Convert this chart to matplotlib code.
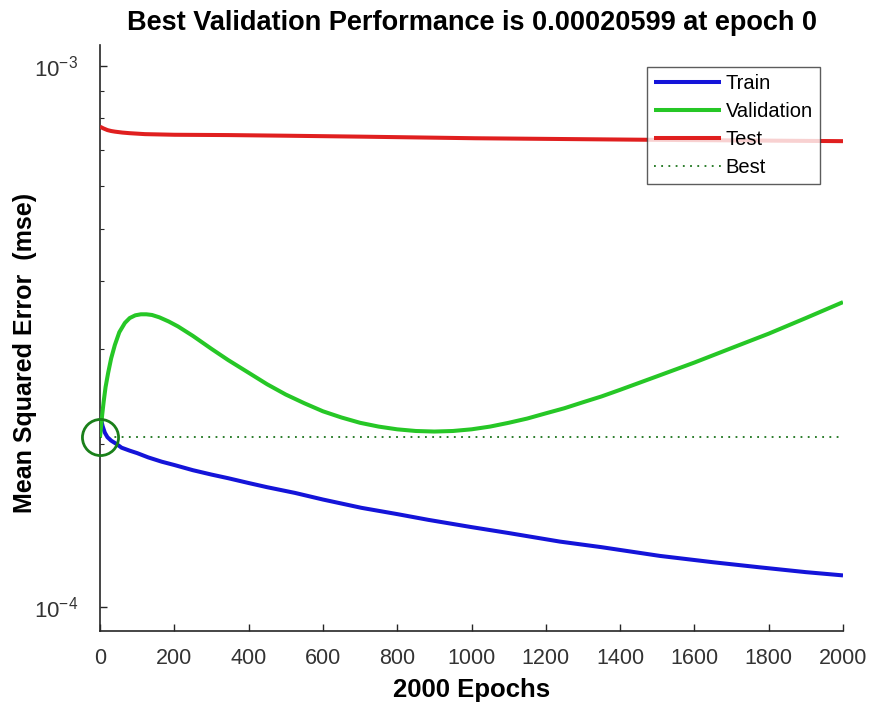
import matplotlib
matplotlib.use("Agg")
import matplotlib.pyplot as plt
from matplotlib.ticker import LogLocator, FixedLocator, NullFormatter

plt.rcParams['font.family'] = ['Liberation Sans', 'DejaVu Sans']
plt.rcParams['mathtext.fontset'] = 'custom'
plt.rcParams['mathtext.rm'] = 'Liberation Sans'

# ---- data ----
train_epochs = [0, 3, 7, 13, 20, 30, 45, 58, 80, 100, 130, 166, 200, 250, 300, 345, 400, 450,
                525, 600, 704, 800, 884, 1000, 1100, 1238, 1350, 1507, 1650, 1776, 1900, 2000]
train_mse = [2.26e-4, 2.22e-4, 2.16e-4, 2.10e-4, 2.06e-4, 2.03e-4, 2.00e-4, 1.97e-4, 1.945e-4,
             1.925e-4, 1.89e-4, 1.856e-4, 1.83e-4, 1.79e-4, 1.757e-4, 1.73e-4, 1.695e-4,
             1.665e-4, 1.625e-4, 1.58e-4, 1.525e-4, 1.485e-4, 1.449e-4, 1.405e-4, 1.37e-4,
             1.321e-4, 1.29e-4, 1.243e-4, 1.21e-4, 1.184e-4, 1.16e-4, 1.144e-4]

val_epochs = [0, 3, 6, 10, 15, 22, 30, 40, 52, 67, 80, 95, 110, 125, 140, 160, 185, 210, 250,
              300, 345, 400, 450, 500, 550, 600, 650, 700, 750, 800, 850, 900, 950, 1000,
              1050, 1100, 1150, 1200, 1250, 1300, 1350, 1400, 1500, 1600, 1700, 1800, 1900, 2000]
val_mse = [2.06e-4, 2.16e-4, 2.27e-4, 2.40e-4, 2.55e-4, 2.71e-4, 2.88e-4, 3.05e-4, 3.22e-4,
           3.35e-4, 3.42e-4, 3.46e-4, 3.475e-4, 3.475e-4, 3.465e-4, 3.43e-4, 3.37e-4, 3.30e-4,
           3.17e-4, 3.00e-4, 2.86e-4, 2.71e-4, 2.58e-4, 2.47e-4, 2.38e-4, 2.30e-4, 2.24e-4,
           2.19e-4, 2.155e-4, 2.13e-4, 2.115e-4, 2.11e-4, 2.115e-4, 2.13e-4, 2.155e-4, 2.19e-4,
           2.23e-4, 2.28e-4, 2.33e-4, 2.39e-4, 2.45e-4, 2.52e-4, 2.67e-4, 2.83e-4, 3.01e-4,
           3.20e-4, 3.42e-4, 3.66e-4]

test_epochs = [0, 5, 10, 20, 30, 40, 60, 80, 121, 200, 345, 500, 705, 1010, 1500, 2000]
test_mse = [7.72e-4, 7.69e-4, 7.66e-4, 7.61e-4, 7.58e-4, 7.56e-4, 7.53e-4, 7.51e-4, 7.48e-4,
            7.46e-4, 7.45e-4, 7.43e-4, 7.40e-4, 7.35e-4, 7.30e-4, 7.26e-4]

best_epoch = 0
best_perf = 0.00020599
n_epochs = 2000

x_ticks = [0, 200, 400, 600, 800, 1000, 1200, 1400, 1600, 1800, 2000]
y_ticks = [1e-4, 1e-3]
y_tick_labels = [r'$\mathregular{10^{-4}}$', r'$\mathregular{10^{-3}}$']

# ---- figure ----
fig = plt.figure(figsize=(8.71, 7.08), dpi=100)
ax = fig.add_axes([100/871, 1-631/708, (843-100)/871, (631-45)/708])

lw = 2.9
ax.plot(train_epochs, train_mse, color=(0.08, 0.08, 0.85), lw=lw, label='Train', zorder=3,
        solid_capstyle='butt')
ax.plot(val_epochs, val_mse, color=(0.15, 0.78, 0.15), lw=lw, label='Validation', zorder=3,
        solid_capstyle='butt')
ax.plot(test_epochs, test_mse, color=(0.88, 0.12, 0.12), lw=lw, label='Test', zorder=3,
        solid_capstyle='butt')
ax.plot([0, n_epochs], [best_perf, best_perf], color=(0.1, 0.45, 0.1), lw=1.3,
        linestyle=(0, (1, 3)), label='Best', zorder=2)
ax.plot([best_epoch], [best_perf], marker='o', markersize=26, markerfacecolor='none',
        markeredgecolor=(0.1, 0.5, 0.1), markeredgewidth=2, linestyle='none', zorder=4,
        clip_on=False)

ax.set_yscale('log')
ax.set_xlim(0, n_epochs)
ax.set_ylim(9.03e-5, 1.093e-3)

ax.set_xticks(x_ticks)
ax.set_xticklabels([str(t) for t in x_ticks])
ax.yaxis.set_major_locator(FixedLocator(y_ticks))
ax.set_yticklabels(y_tick_labels)
ax.yaxis.set_minor_locator(LogLocator(base=10, subs=range(2, 10)))
ax.yaxis.set_minor_formatter(NullFormatter())

for s in ['top', 'right']:
    ax.spines[s].set_visible(False)
for s in ['left', 'bottom']:
    ax.spines[s].set_color('#262626')
    ax.spines[s].set_linewidth(1.2)

ax.tick_params(axis='x', which='major', direction='in', length=5, width=1,
               colors='#262626', labelsize=15.5, labelcolor='#333333', pad=12)
ax.tick_params(axis='y', which='major', direction='in', length=5, width=1,
               colors='#262626', labelsize=16, labelcolor='#333333', pad=16)
ax.tick_params(axis='y', which='minor', direction='in', length=3, width=0.8, colors='#262626')

ax.set_title('Best Validation Performance is 0.00020599 at epoch 0',
             fontsize=19.5, fontweight='bold', pad=11)
ax.set_xlabel('2000 Epochs', fontsize=18.5, fontweight='bold', labelpad=7)
ax.set_ylabel('Mean Squared Error  (mse)', fontsize=18, fontweight='bold')
ax.yaxis.set_label_coords(-63/743, (631-353)/586)

leg = ax.legend(loc='upper right', bbox_to_anchor=(820/871, 1-67/708),
                bbox_transform=fig.transFigure, fontsize=14.5, frameon=True,
                fancybox=False, edgecolor='#333333', handlelength=3.3,
                handletextpad=0.25, borderpad=0.35, labelspacing=0.45, borderaxespad=0)
leg.get_frame().set_linewidth(1.0)

fig.savefig('out.png', dpi=100, facecolor='white')
